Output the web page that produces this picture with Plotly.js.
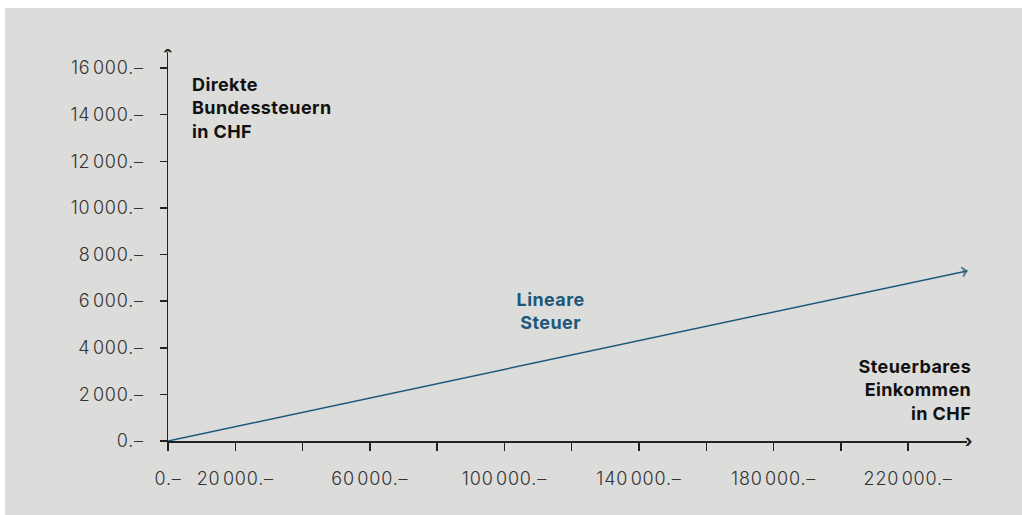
<!DOCTYPE html>
<html>
<head>
<meta charset="utf-8">
<script src="https://cdn.plot.ly/plotly-3.0.1.min.js"></script>
<style>
  html, body { margin:0; padding:0; background:#ffffff; }
  #wrap { position:absolute; left:5px; top:8px; width:1017px; height:507px; background:#dcdcdb; }
  #chart { width:1017px; height:507px; }
  #chart .xtick text, #chart .ytick text { letter-spacing: 0.8px; }
  #chart .annotation-text { letter-spacing: 0.4px; }
</style>
</head>
<body>
<div id="wrap"><div id="chart"></div></div>
<script>
// Data
const income = [0, 237500];          // Steuerbares Einkommen in CHF
const linearTax = [0, 7300];         // Lineare Steuer (Direkte Bundessteuern in CHF)

const xTickVals = [0, 20000, 40000, 60000, 80000, 100000, 120000, 140000, 160000, 180000, 200000, 220000];
const xTickText = ["0.–", "20\u200A000.–", "", "60\u200A000.–", "", "100\u200A000.–", "", "140\u200A000.–", "", "180\u200A000.–", "", "220\u200A000.–"];
const yTickVals = [0, 2000, 4000, 6000, 8000, 10000, 12000, 14000, 16000];
const yTickText = ["0.–", "2\u200A000.–", "4\u200A000.–", "6\u200A000.–", "8\u200A000.–", "10\u200A000.–", "12\u200A000.–", "14\u200A000.–", "16\u200A000.–"];

const yLabel = "Direkte<br>Bundessteuern<br>in CHF";
const xLabel = "Steuerbares<br>Einkommen<br>in CHF";
const seriesLabel = "Lineare<br>Steuer";

const blue = "#1b587c";
const axisColor = "#222222";
const tickFont = {family: "Inter, 'Noto Sans', sans-serif", size: 18, color: "#333333", weight: 300};
const boldFont = {family: "Inter, 'Noto Sans', sans-serif", size: 18, color: "#111111", weight: 700};

const trace = {
  x: income, y: linearTax, type: "scatter", mode: "lines+markers",
  line: {color: blue, width: 1.5},
  marker: {symbol: "arrow-wide-open", size: [0, 7], angleref: "previous", color: blue, line: {color: blue, width: 1.5}},
  hoverinfo: "skip", showlegend: false, cliponaxis: false
};

const layout = {
  width: 1017, height: 507,
  paper_bgcolor: "rgba(0,0,0,0)", plot_bgcolor: "rgba(0,0,0,0)",
  margin: {l: 163, r: 55, t: 44, b: 74},
  xaxis: {
    range: [0, 237500], showgrid: false, zeroline: false,
    showline: true, linecolor: axisColor, linewidth: 1.5,
    ticks: "outside", ticklen: 8, tickwidth: 1.5, tickcolor: axisColor,
    tickvals: xTickVals, ticktext: xTickText, tickfont: tickFont, ticklabelstandoff: 13
  },
  yaxis: {
    range: [0, 16690], showgrid: false, zeroline: false,
    showline: true, linecolor: axisColor, linewidth: 1.5,
    ticks: "outside", ticklen: 7, tickwidth: 1.5, tickcolor: axisColor,
    tickvals: yTickVals, ticktext: yTickText, tickfont: tickFont, ticklabelstandoff: 12
  },
  annotations: [
    {xref: "paper", yref: "paper", x: 0.0275, y: 0.856, xanchor: "left", yanchor: "middle",
     text: yLabel, showarrow: false, align: "left", font: boldFont},
    {xref: "paper", yref: "paper", x: 1.008, y: 0.131, xanchor: "right", yanchor: "middle",
     text: xLabel, showarrow: false, align: "right", font: boldFont},
    {xref: "x", yref: "y", x: 113800, y: 5590, xanchor: "center", yanchor: "middle",
     text: seriesLabel, showarrow: false, align: "center", font: Object.assign({}, boldFont, {color: blue})},
    {xref: "paper", yref: "paper", x: 1, y: 0, xanchor: "center", yanchor: "middle",
     text: "›", showarrow: false, font: {family: "Inter, sans-serif", size: 18, color: axisColor, weight: 700}, xshift: 2, yshift: 1},
    {xref: "paper", yref: "paper", x: 0, y: 1, xanchor: "center", yanchor: "middle",
     text: "ˆ", showarrow: false, font: {family: "Inter, sans-serif", size: 22, color: axisColor, weight: 700}, yshift: -6}
  ]
};

Plotly.newPlot("chart", [trace], layout, {displayModeBar: false, staticPlot: true});
</script>
</body>
</html>
